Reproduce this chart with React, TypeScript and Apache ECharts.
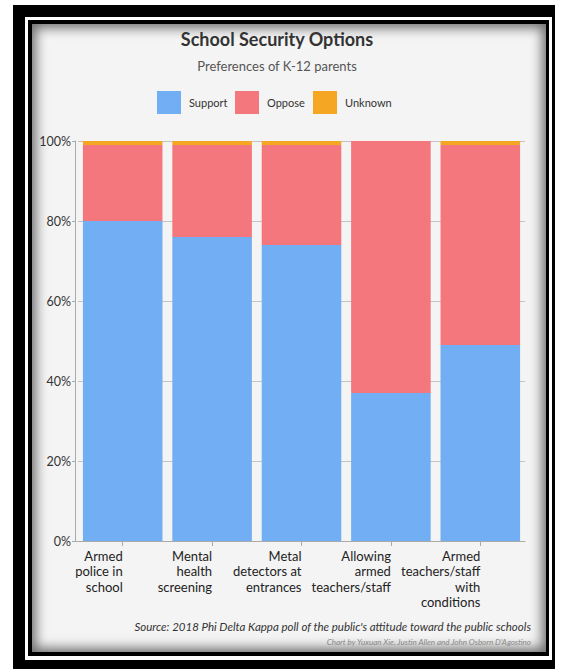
import React, { useEffect, useRef } from "react";
import * as echarts from "echarts";

const categories = [
  "Armed\npolice in\nschool",
  "Mental\nhealth\nscreening",
  "Metal\ndetectors at\nentrances",
  "Allowing\narmed\nteachers/staff",
  "Armed\nteachers/staff\nwith\nconditions",
];
const supportValues = [80, 76, 74, 37, 49];
const opposeValues = [19, 23, 25, 63, 50];
const unknownValues = [1, 1, 1, 0, 1];
const seriesNames = ["Support", "Oppose", "Unknown"];
const yTicks = [0, 20, 40, 60, 80, 100];

const COLORS = ["#72aef3", "#f4777d", "#f5a623"];
const FONT = "Lato, 'Open Sans', sans-serif";

export default function App() {
  const ref = useRef<HTMLDivElement>(null);
  useEffect(() => {
    if (!ref.current) return;
    const chart = echarts.init(ref.current, null, { renderer: "svg" });
    const values = [supportValues, opposeValues, unknownValues];
    const legendLefts = [157, 235, 313];
    chart.setOption({
      animation: false,
      backgroundColor: "transparent",
      textStyle: { fontFamily: FONT },
      title: [
        {
          text: "School Security Options",
          left: 277,
          top: 30,
          textAlign: "center",
          padding: 0,
          textStyle: { fontSize: 18, fontWeight: "bold", color: "#333", fontFamily: FONT, lineHeight: 18 },
        },
        {
          text: "Preferences of K-12 parents",
          left: 277,
          top: 59,
          textAlign: "center",
          padding: 0,
          textStyle: { fontSize: 13, fontWeight: "normal", color: "#555", fontFamily: FONT, lineHeight: 13 },
        },
      ],
      legend: seriesNames.map((n, i) => ({
        data: [n],
        left: legendLefts[i],
        top: 91,
        padding: 0,
        itemWidth: 24,
        itemHeight: 23,
        icon: "rect",
        selectedMode: false,
        textStyle: { fontSize: 11, color: "#333", fontFamily: FONT, padding: [0, 0, 0, 3] },
      })),
      grid: { left: 78, right: 39, top: 141, bottom: 128, containLabel: false },
      xAxis: {
        type: "category",
        data: categories,
        axisLine: { show: true, lineStyle: { color: "#aaa", width: 1 } },
        axisTick: { show: true, alignWithLabel: true, length: 5, lineStyle: { color: "#aaa" } },
        axisLabel: {
          align: "right",
          margin: 7,
          fontSize: 13,
          lineHeight: 15.5,
          color: "#222",
          fontFamily: FONT,
          interval: 0,
        },
      },
      yAxis: {
        type: "value",
        min: yTicks[0],
        max: yTicks[yTicks.length - 1],
        interval: 20,
        offset: 3,
        axisLine: { show: true, lineStyle: { color: "#aaa", width: 1 } },
        axisTick: { show: true, length: 3, lineStyle: { color: "#aaa" } },
        axisLabel: { formatter: "{value}%", fontSize: 12.5, color: "#333", margin: 4, fontFamily: FONT },
        splitLine: { show: true, lineStyle: { color: "#c4c4c4", width: 1 } },
      },
      series: seriesNames.map((n, i) => ({
        name: n,
        type: "bar",
        stack: "total",
        data: values[i],
        barCategoryGap: "11%",
        itemStyle: { color: COLORS[i] },
      })),
      graphic: [
        {
          type: "line",
          shape: { x1: 75, y1: 541.5, x2: 78, y2: 541.5 },
          style: { stroke: "#aaa", lineWidth: 1 },
          silent: true,
        },
        {
          type: "text",
          x: 531,
          y: 626,
          style: {
            text: "Source: 2018 Phi Delta Kappa poll of the public's attitude toward the public schools",
            align: "right",
            verticalAlign: "middle",
            font: `italic 11.5px ${FONT}`,
            fill: "#333",
          },
        },
        {
          type: "text",
          x: 531,
          y: 642,
          style: {
            text: "Chart by Yuxuan Xie, Justin Allen and John Osborn D'Agostino",
            align: "right",
            verticalAlign: "middle",
            font: `italic 8px ${FONT}`,
            fill: "#888",
          },
        },
      ],
    });
    return () => chart.dispose();
  }, []);

  const abs = (l: number, t: number, r: number, b: number, extra: React.CSSProperties = {}): React.CSSProperties => ({
    position: "absolute",
    left: l,
    top: t,
    width: r - l,
    height: b - t,
    ...extra,
  });

  return (
    <div style={{ position: "fixed", left: 0, top: 0, width: 564, height: 669, background: "#fff", overflow: "hidden" }}>
      <div style={abs(13, 5, 555, 669, { background: "#000" })} />
      <div style={abs(25, 17, 552, 660, { background: "#fff" })} />
      <div style={abs(28, 20, 549, 656, { background: "#000" })} />
      <div
        style={abs(32, 24, 546, 652, {
          background: "#f4f4f4",
          boxShadow: "inset 0 0 12px 4px rgba(0,0,0,0.55)",
        })}
      />
      <div ref={ref} style={abs(0, 0, 564, 669, { background: "transparent" })} />
    </div>
  );
}
